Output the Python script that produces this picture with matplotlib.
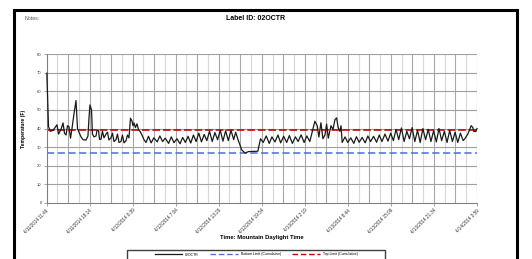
import matplotlib
matplotlib.use("Agg")
import matplotlib.pyplot as plt
import numpy as np
from matplotlib.lines import Line2D
from matplotlib.patches import Rectangle

# ---------------- data ----------------
hours = [0.05, 0.3, 0.55, 0.97, 1.27, 1.56, 1.79, 2.16, 2.46, 2.68, 2.91, 3.13, 3.35, 3.58, 3.80,
         4.10, 4.40, 4.62, 4.84, 5.14, 5.44, 5.89, 6.18, 6.33, 6.48, 6.71, 6.85, 7.08, 7.38, 7.53,
         7.75, 7.90, 8.12, 8.34, 8.57, 8.87, 9.09, 9.31, 9.61, 9.83, 10.06, 10.36, 10.58, 10.80,
         11.10, 11.32, 11.55, 11.85, 12.07, 12.29, 12.52, 12.74, 12.89, 13.04, 13.26, 13.48, 13.71,
         13.93, 14.23, 14.53, 14.83,
         15.2, 15.6, 16.0, 16.5, 16.9, 17.3, 17.7, 18.2, 18.6, 19.0, 19.45, 19.9, 20.3, 20.7, 21.1, 21.5,
         21.9, 22.3, 22.7, 23.1, 23.5, 23.9, 24.3, 24.7, 25.1, 25.5, 25.9, 26.3, 26.7, 27.1, 27.5, 27.9, 28.2,
         28.55, 29.1, 29.6, 30.1, 31.5, 31.9,
         32.3, 32.75, 33.2, 33.6, 34.05, 34.5, 34.9, 35.35, 35.8, 36.2, 36.65, 37.1, 37.5, 37.95, 38.4,
         38.8, 39.25,
         40.0, 40.35, 40.6, 40.9, 41.2, 41.5, 41.75, 42.0, 42.4, 42.7, 43.0, 43.24, 43.48, 43.73, 43.9, 44.07,
         44.5, 44.9, 45.35, 45.8, 46.2, 46.6, 47.05, 47.5, 47.9, 48.3, 48.75, 49.2, 49.6, 50.0, 50.45,
         50.9, 51.3, 51.7,
         52.1, 52.5, 52.9, 53.3, 53.7, 54.1, 54.5, 54.9, 55.3, 55.7, 56.1, 56.5, 56.9, 57.3, 57.7, 58.1,
         58.5, 58.9, 59.3, 59.7, 60.1, 60.5, 60.9, 61.3, 61.7, 62.1,
         62.35, 62.8, 63.3, 63.55, 63.7, 64.0, 64.17]
temps = [69.7, 41.0, 38.5, 39.0, 40.5, 42.0, 37.0, 39.5, 43.0, 37.5, 36.5, 41.5, 41.0, 34.8, 40.0,
         48.0, 55.0, 40.0, 38.0, 35.5, 34.0, 33.8, 36.0, 45.5, 52.7, 50.0, 37.0, 35.5, 36.0, 39.0,
         39.0, 34.2, 34.2, 38.5, 35.0, 37.0, 38.0, 33.8, 35.0, 37.5, 33.0, 34.0, 37.0, 32.5,
         33.0, 36.5, 32.3, 33.5, 36.5, 35.0, 45.5, 44.0, 41.5, 43.0, 40.5, 42.5, 39.5,
         38.5, 36.5, 34.0, 32.5,
         35.8, 32.3, 35.0, 32.8, 36.0, 33.0, 34.8, 32.0, 35.5, 32.4, 34.5, 31.8, 35.2, 32.5, 35.8, 32.2,
         36.5, 33.0, 37.5, 32.8, 36.8, 33.5, 38.5, 33.0, 37.8, 34.0, 39.0, 33.2, 38.8, 33.5, 39.0, 34.0, 38.0,
         34.0, 28.5, 26.8, 27.6, 27.8, 34.5,
         32.5, 36.0, 32.0, 35.5, 32.8, 36.5, 32.3, 35.8, 32.5, 36.2, 32.0, 35.5, 33.0, 36.6, 32.5,
         36.0, 33.0,
         43.9, 41.5, 35.4, 43.1, 34.5, 36.5, 42.4, 34.8, 41.5, 39.5, 44.8, 45.7, 40.5, 38.5, 41.5, 32.5,
         35.5, 32.5, 35.0, 32.0, 35.6, 32.6, 35.2, 32.3, 36.0, 33.0, 35.8, 32.6, 36.5, 33.0, 37.0,
         33.2, 37.5, 33.5,
         39.5, 34.0, 40.3, 33.0, 38.5, 34.5, 40.5, 33.0, 39.0, 32.5, 40.0, 34.0, 39.5, 33.0, 38.8, 32.8,
         40.0, 33.5, 38.5, 32.5, 39.0, 33.0, 38.0, 32.5, 37.5, 33.5,
         34.5, 37.0, 41.5, 40.5, 38.4, 38.4, 40.0]

top_limit = 39.2
bottom_limit = 26.6

tick_labels = ["4/11/2014 11:49", "4/11/2014 18:14", "4/12/2014 0:39", "4/12/2014 7:04",
               "4/12/2014 13:29", "4/12/2014 19:54", "4/13/2014 2:19", "4/13/2014 8:44",
               "4/13/2014 15:09", "4/13/2014 21:34", "4/14/2014 3:59"]
tick_hours = [0.0, 6.4167, 12.8333, 19.25, 25.6667, 32.0833, 38.5, 44.9167, 51.3333, 57.75, 64.1667]
y_ticks = [0, 10, 20, 30, 40, 50, 60, 70, 80]

series_name = "02OCTR"
bottom_name = "Bottom Limit (Cumulative)"
top_name = "Top Limit (Cumulative)"

# ---------------- figure ----------------
plt.rcParams['font.family'] = ['Liberation Sans', 'DejaVu Sans']
W, H = 532, 259
fig = plt.figure(figsize=(W / 100, H / 100), dpi=100)
fig.patch.set_facecolor('white')

x0, x1, y0, y1 = 46.5, 477.0, 54.0, 203.0
ax = fig.add_axes([x0 / W, (H - y1) / H, (x1 - x0) / W, (y1 - y0) / H])
ax.set_xlim(tick_hours[0], tick_hours[-1])
ax.set_ylim(0, 80)

# grid
span = tick_hours[-1] - tick_hours[0]
step = span / 40
for i in range(1, 41):
    xv = tick_hours[0] + i * step
    ax.axvline(xv, color='#a8a8a8' if i % 2 == 0 else '#d8d8d8', lw=0.8, zorder=0)
for yv in y_ticks[1:]:
    ax.axhline(yv, color='#a0a0a0', lw=0.8, zorder=0)

ax.plot(hours, temps, color='#1a1a1a', lw=0.9, zorder=5, clip_on=False)
ax.axhline(top_limit, color='#c00000', lw=1.15, dashes=(4.8, 1.8), zorder=2)
ax.axhline(bottom_limit, color='#4f72e0', lw=1.15, dashes=(4.5, 2.2), zorder=2)

for s in ['top', 'right']:
    ax.spines[s].set_visible(False)
for s in ['left', 'bottom']:
    ax.spines[s].set_color('#808080')
    ax.spines[s].set_linewidth(0.8)

ax.set_yticks(y_ticks)
ax.set_yticklabels([str(v) for v in y_ticks], fontsize=3, color='#333333')
ax.set_xticks(tick_hours)
ax.set_xticklabels(tick_labels, fontsize=3.3, rotation=45, ha='right', va='top',
                   rotation_mode='anchor', color='#333333')
ax.tick_params(axis='both', length=2, width=0.5, color='#808080', pad=1.5)

ax.set_ylabel('Temperature (F)', fontsize=3.6, fontweight='bold', labelpad=8)
fig.text((x0 + x1) / 2 / W, 1 - 237 / H, 'Time: Mountain Daylight Time', fontsize=4.2,
         fontweight='bold', ha='center', va='center')

fig.text(256 / W, 1 - 19 / H, 'Label ID: 02OCTR', fontsize=5, fontweight='bold',
         ha='center', va='center')
fig.text(25 / W, 1 - 19 / H, 'Notes:', fontsize=3.8, color='#555555', ha='left', va='center')

# legend (frameless, with a drawn box)
handles = [Line2D([], [], color='#1a1a1a', lw=0.9),
           Line2D([], [], color='#4f72e0', lw=1.0, dashes=(4, 2)),
           Line2D([], [], color='#c00000', lw=1.0, dashes=(4, 2))]
leg = fig.legend(handles, [series_name, bottom_name, top_name], loc='center',
                 bbox_to_anchor=(256 / W, 1 - 254.5 / H), ncol=3, fontsize=2.5,
                 frameon=False, handlelength=8, handletextpad=0.8, columnspacing=3.2,
                 borderpad=0)
fig.add_artist(Rectangle((127 / W, -0.1), (385 - 127) / W, 0.1 + (259 - 250) / H,
                         transform=fig.transFigure, fill=False, edgecolor='#404040', lw=1.0))

# outer frame
fig.add_artist(Rectangle((14 / W, -0.2), (517 - 14) / W, 1.2 - 10 / H, transform=fig.transFigure,
                         fill=False, edgecolor='black', lw=2.2))

fig.savefig('out.png', dpi=100, facecolor='white')
